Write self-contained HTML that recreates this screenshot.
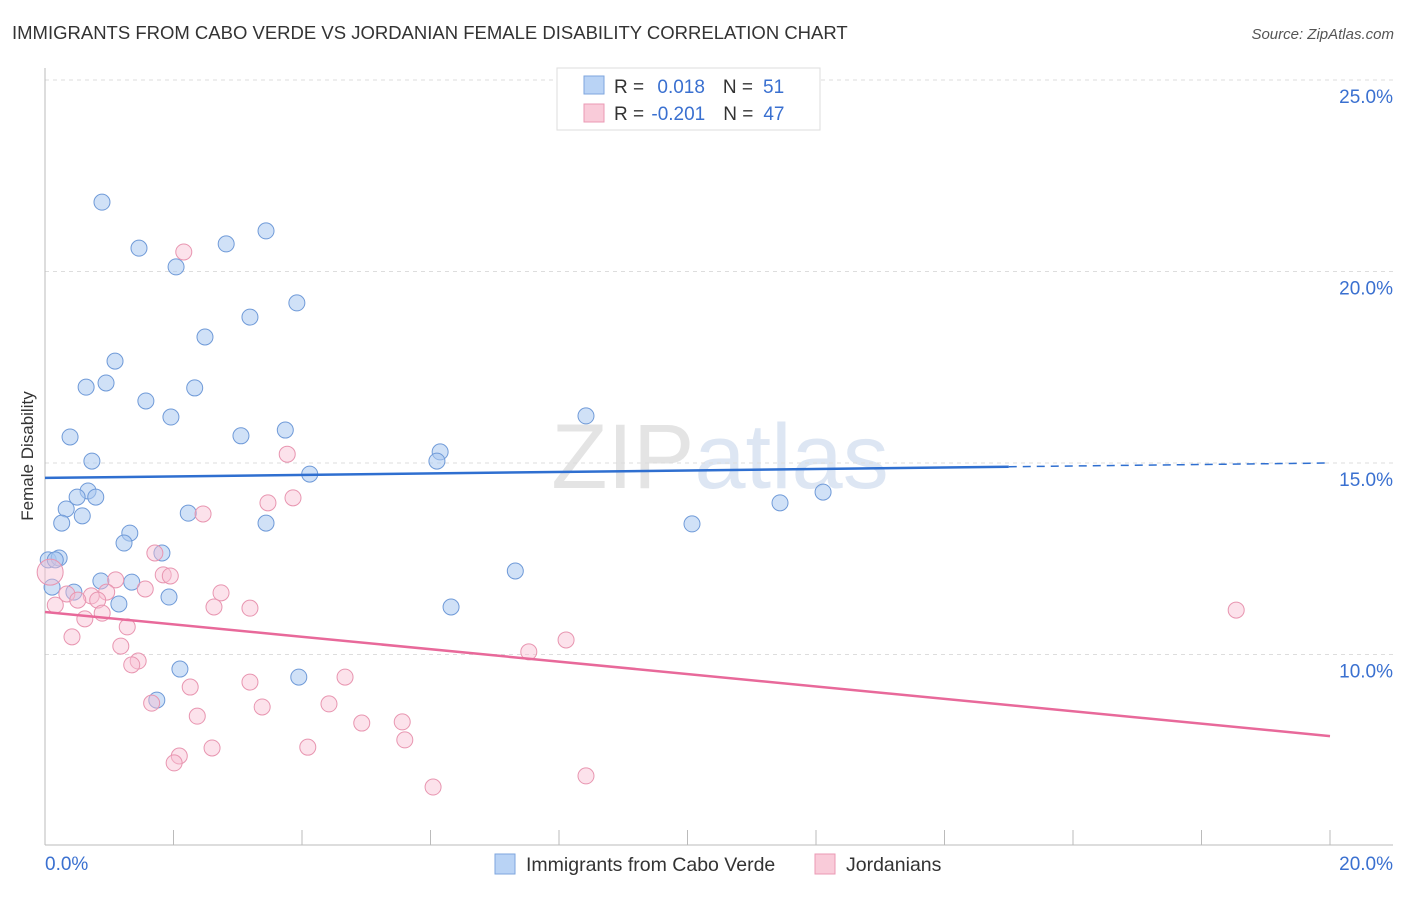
<!DOCTYPE html>
<html><head><meta charset="utf-8"><style>
body{margin:0;background:#fff;font-family:"Liberation Sans",sans-serif;}
svg text{font-family:"Liberation Sans",sans-serif;}
</style></head><body>
<svg id="chart" width="1406" height="892" viewBox="0 0 1406 892" xmlns="http://www.w3.org/2000/svg">
<text x="12" y="39" font-size="18.5" fill="#333">IMMIGRANTS FROM CABO VERDE VS JORDANIAN FEMALE DISABILITY CORRELATION CHART</text>
<text x="1394" y="39" font-size="15" fill="#555" font-style="italic" text-anchor="end">Source: ZipAtlas.com</text>
<text x="720" y="488" font-size="92" fill="#e4e4e4" text-anchor="middle" font-family="Liberation Serif">ZIP<tspan fill="#dde6f3" font-family="Liberation Sans">atlas</tspan></text>
<g id="grid"></g>
<g id="axes"></g>
<g id="marks"></g>
<text x="33" y="456" font-size="17" fill="#333" text-anchor="middle" transform="rotate(-90 33 456)">Female Disability</text>
<g>
<rect x="557" y="68" width="263" height="62" fill="#fff" stroke="#ddd"/>
<rect x="584" y="76" width="20" height="18" fill="#b9d3f5" stroke="#7ea6de"/>
<rect x="584" y="104" width="20" height="18" fill="#f9cbd9" stroke="#eb9ab4"/>
<text x="614" y="93" font-size="19" fill="#333">R = <tspan fill="#3a70d0" dx="8">0.018</tspan><tspan dx="18" fill="#333">N =</tspan><tspan dx="10" fill="#3a70d0">51</tspan></text>
<text x="614" y="120" font-size="19" fill="#333">R = <tspan fill="#3a70d0" dx="2">-0.201</tspan><tspan dx="18" fill="#333">N =</tspan><tspan dx="10" fill="#3a70d0">47</tspan></text>
</g>
<g>
<rect x="495" y="854" width="20" height="20" fill="#b9d3f5" stroke="#7ea6de"/>
<text x="526" y="871" font-size="19.5" fill="#333">Immigrants from Cabo Verde</text>
<rect x="815" y="854" width="20" height="20" fill="#f9cbd9" stroke="#eb9ab4"/>
<text x="846" y="871" font-size="19.5" fill="#333">Jordanians</text>
</g>
</svg>
<script>
const yTicks=[25,20,15,10];
const yTickLabels=["25.0%","20.0%","15.0%","10.0%"];
const xTickLabels=["0.0%","20.0%"];
const blueX=[0.887,1.463,2.04,2.82,3.44,3.92,3.19,2.49,1.09,0.95,0.64,2.33,1.57,1.96,0.39,3.05,3.74,0.73,4.12,6.15,6.10,8.42,0.67,0.50,0.79,0.33,0.58,0.26,2.23,3.44,1.32,1.23,1.82,0.05,0.22,0.11,0.87,1.35,0.45,1.15,1.93,7.32,6.32,10.07,11.44,12.11,2.10,3.95,1.74,0.16];
const blueY=[21.81,20.61,20.12,20.72,21.06,19.18,18.81,18.29,17.66,17.09,16.98,16.96,16.62,16.20,15.68,15.71,15.86,15.05,14.71,15.29,15.05,16.23,14.27,14.11,14.11,13.80,13.62,13.43,13.69,13.43,13.17,12.91,12.65,12.47,12.52,11.76,11.92,11.89,11.63,11.32,11.50,12.18,11.24,13.41,13.96,14.24,9.62,9.41,8.81,12.47];
const pinkX=[2.16,3.77,3.86,3.47,2.46,1.71,1.84,1.95,1.10,1.56,0.96,2.74,0.34,0.72,0.51,0.82,0.16,2.63,3.19,0.89,0.62,1.28,0.42,1.18,8.11,7.53,1.45,1.35,2.26,3.19,4.67,1.66,3.38,4.42,2.37,4.93,5.56,5.60,2.60,4.09,2.09,2.01,8.42,6.04,18.54,0.08];
const pinkY=[20.51,15.23,14.09,13.96,13.67,12.65,12.08,12.05,11.95,11.71,11.63,11.61,11.58,11.53,11.42,11.42,11.29,11.24,11.21,11.08,10.93,10.72,10.46,10.22,10.38,10.07,9.83,9.73,9.15,9.28,9.41,8.73,8.63,8.71,8.39,8.21,8.24,7.77,7.56,7.58,7.35,7.17,6.83,6.54,11.16,12.15];
const blueTrend=[14.61,15.0];
const pinkTrend=[11.11,7.87];
const NS="http://www.w3.org/2000/svg";
const sx=v=>45+v/20*1285;
const sy=v=>80+(25-v)*38.3;
function mk(tag,at,parent){const e=document.createElementNS(NS,tag);for(const k in at)e.setAttribute(k,at[k]);document.getElementById(parent).appendChild(e);return e;}
yTicks.forEach((t,i)=>{
 const l=mk('line',{x1:45,x2:1393,y1:sy(t),y2:sy(t),stroke:'#ddd','stroke-dasharray':'4 4'},'grid');
 
 
 const tx=mk('text',{x:1393,y:sy(t)+23,'font-size':19,fill:'#3a70d0','text-anchor':'end'},'axes');
 tx.textContent=yTickLabels[i];
 
 
});
mk('line',{x1:45,x2:45,y1:68,y2:845,stroke:'#bbb'},'axes');
mk('line',{x1:45,x2:1393,y1:845,y2:845,stroke:'#bbb'},'axes');
for(let i=0;i<=10;i++){const t=mk('line',{x1:sx(i*2),x2:sx(i*2),y1:830,y2:845,stroke:'#bbb'},'axes');
 
 }
[[0,'start',45],[1,'end',1393]].forEach(([i,a,x])=>{const t=mk('text',{x:x,y:870,'font-size':19,fill:'#3a70d0','text-anchor':a},'axes');t.textContent=xTickLabels[i];
 
 });
blueX.forEach((x,i)=>{const c=mk('circle',{cx:sx(x),cy:sy(blueY[i]),r:8,fill:'rgba(170,200,240,0.55)',stroke:'#6f9ad8','stroke-width':1},'marks');
 
 });
pinkX.forEach((x,i)=>{const c=mk('circle',{cx:sx(x),cy:sy(pinkY[i]),r:i==pinkX.length-1?13:8,fill:'rgba(248,190,210,0.45)',stroke:'#e895b0','stroke-width':1},'marks');
 
 });
const bMid=blueTrend[0]+(blueTrend[1]-blueTrend[0])*0.75;
const b1=mk('line',{x1:sx(0),y1:sy(blueTrend[0]),x2:sx(15),y2:sy(bMid),stroke:'#2f6fd0','stroke-width':2.5},'marks');


const b2=mk('line',{x1:sx(15),y1:sy(bMid),x2:sx(20),y2:sy(blueTrend[1]),stroke:'#2f6fd0','stroke-width':1.5,'stroke-dasharray':'8 6'},'marks');


const p1=mk('line',{x1:sx(0),y1:sy(pinkTrend[0]),x2:sx(20),y2:sy(pinkTrend[1]),stroke:'#e8699a','stroke-width':2.5},'marks');


</script>
</body></html>
